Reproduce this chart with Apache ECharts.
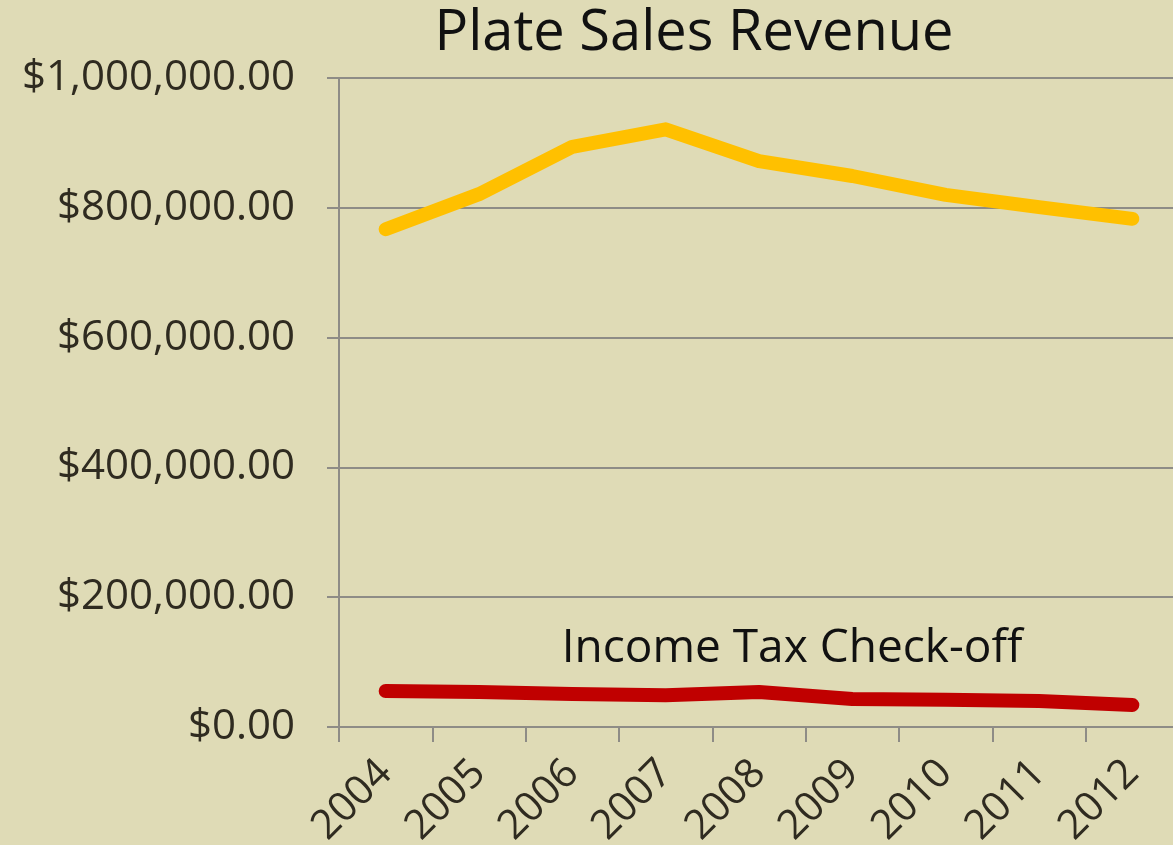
<html>
<head>
    <meta charset="UTF-8">
    <title>Plate Sales Revenue</title>
    <script src="https://cdn.jsdelivr.net/npm/echarts@6/dist/echarts.min.js"></script>
    <style>
        html, body { margin: 0; padding: 0; background: #dfdbb6; overflow: hidden; }
    </style>
</head>

<body>
    <div id="container" style="width: 1173px;height:845px;"></div>
</body>

<script>
    // data
    var years = ['2004', '2005', '2006', '2007', '2008', '2009', '2010', '2011', '2012'];
    var plateSales = [767000, 821000, 894000, 921000, 872000, 849000, 820000, 801000, 783000];
    var taxCheckoff = [55500, 54000, 51000, 49000, 54000, 43000, 42000, 40000, 34000];

    var fontName = '"Open Sans", "Noto Sans", sans-serif';
    var textColor = '#2f2b20';
    var gridColor = '#8e8c86';

    function money(v) {
        var s = Math.round(v).toString().replace(/\B(?=(\d{3})+(?!\d))/g, ',');
        return '$' + s + '.00';
    }

    var mycharts = echarts.init(document.getElementById('container'));
    var option = {
        backgroundColor: '#dfdbb6',
        animation: false,
        title: {
            text: 'Plate Sales Revenue',
            left: 689,
            textAlign: 'center',
            top: 1,
            textStyle: { fontFamily: fontName, fontSize: 56, fontWeight: 'normal', color: '#111' }
        },
        grid: { left: 339, top: 78, width: 840, bottom: 118, containLabel: false, outerBoundsMode: 'none' },
        xAxis: {
            type: 'category',
            data: years,
            boundaryGap: true,
            axisLine: { lineStyle: { color: gridColor, width: 2 } },
            axisTick: { show: true, length: 15, lineStyle: { color: gridColor, width: 2 } },
            axisLabel: {
                rotate: 45,
                margin: 40,
                interval: 0,
                fontFamily: fontName,
                fontSize: 41,
                color: textColor
            }
        },
        yAxis: {
            type: 'value',
            min: 0,
            max: 1000000,
            interval: 200000,
            axisLine: { show: true, lineStyle: { color: gridColor, width: 2 } },
            axisTick: { show: true, length: 12, lineStyle: { color: gridColor, width: 2 } },
            splitLine: { lineStyle: { color: gridColor, width: 2 } },
            axisLabel: {
                margin: 44,
                fontFamily: fontName,
                fontSize: 42,
                color: textColor,
                formatter: money
            }
        },
        series: [
            {
                name: 'Plate Sales',
                type: 'line',
                data: plateSales,
                showSymbol: false,
                lineStyle: { color: '#ffc000', width: 14, cap: 'round', join: 'round' }
            },
            {
                name: 'Income Tax Check-off',
                type: 'line',
                data: taxCheckoff,
                showSymbol: false,
                lineStyle: { color: '#c00000', width: 14, cap: 'round', join: 'round' }
            }
        ],
        graphic: [{
            type: 'text',
            x: 792,
            y: 649,
            style: {
                text: 'Income Tax Check-off',
                font: '46px ' + fontName,
                fill: '#111',
                align: 'center',
                verticalAlign: 'middle'
            }
        }]
    };
    mycharts.setOption(option);
</script>
</html>
